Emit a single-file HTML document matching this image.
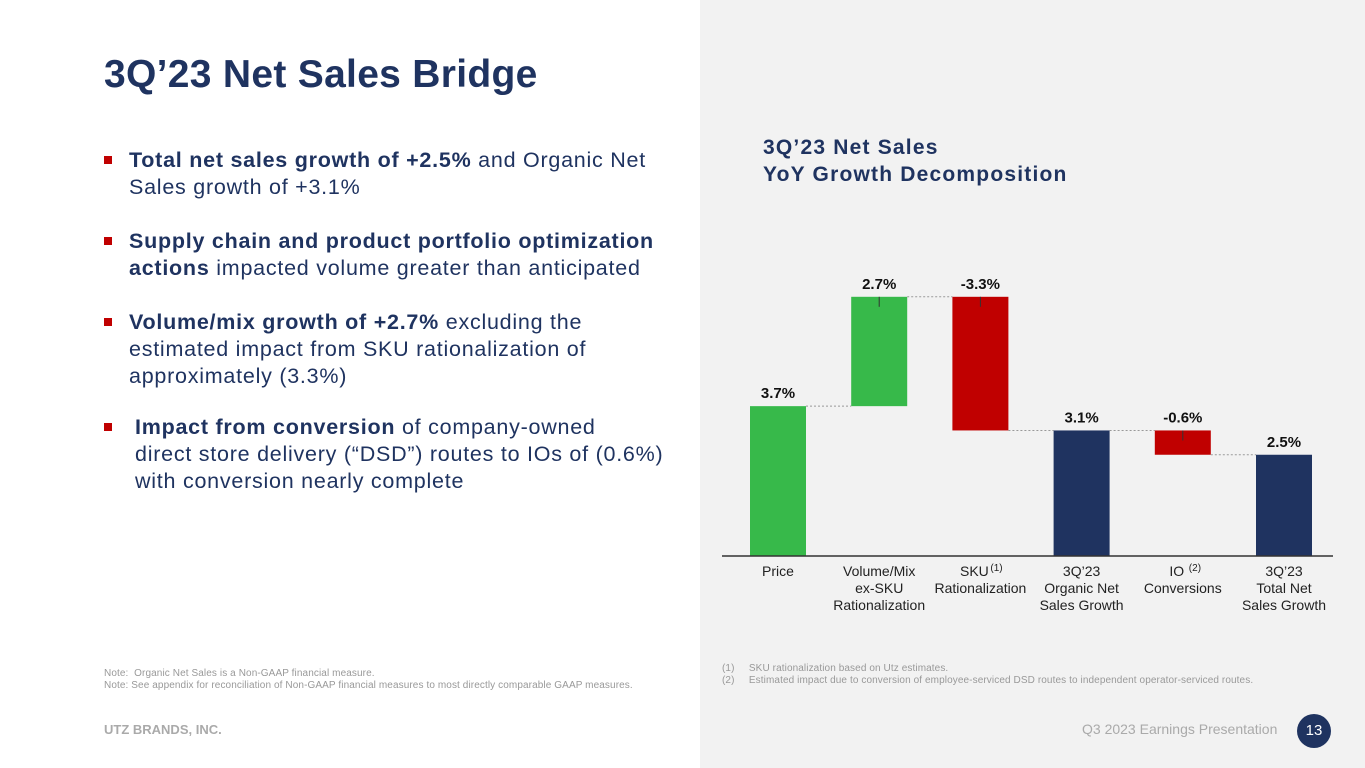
<!DOCTYPE html>
<html><head><meta charset="utf-8"><style>
body{margin:0;width:1365px;height:768px;position:relative;overflow:hidden;font-family:"Liberation Sans",sans-serif;background:#fff}
.right{position:absolute;left:700px;top:0;width:665px;height:768px;background:#f2f2f2}
h1{position:absolute;left:104px;top:53px;margin:0;font-size:39px;color:#1f3360;font-weight:bold;letter-spacing:0.3px}
.b{position:absolute;left:104px;font-size:21.5px;line-height:27px;color:#1f3360;width:600px;letter-spacing:0.75px;white-space:nowrap}
.b .sq{position:absolute;left:0;top:9px;width:8px;height:8px;background:#c00000}
.b .t{margin-left:25px}
.b strong{font-weight:bold}
.ct{position:absolute;left:763px;top:134px;font-size:21px;font-weight:bold;color:#1f3360;line-height:27px;letter-spacing:1.2px}
.small{position:absolute;font-size:10px;color:#999;line-height:12px;white-space:nowrap}
.foot{position:absolute;left:104px;top:722px;font-size:13px;font-weight:bold;color:#aaa}
.pres{position:absolute;left:1082px;top:721px;font-size:14px;color:#aaa}
.pg{position:absolute;left:1297px;top:714px;width:34px;height:34px;border-radius:17px;background:#1f3360;color:#fff;font-size:15px;text-align:center;line-height:34px}
</style></head><body>
<div class="right"></div>
<h1>3Q’23 Net Sales Bridge</h1>
<div class="b" style="top:147px"><span class="sq"></span><div class="t"><strong>Total net sales growth of +2.5%</strong> and Organic Net<br>Sales growth of +3.1%</div></div>
<div class="b" style="top:228px"><span class="sq"></span><div class="t"><strong>Supply chain and product portfolio optimization<br>actions</strong> impacted volume greater than anticipated</div></div>
<div class="b" style="top:309px"><span class="sq"></span><div class="t"><strong>Volume/mix growth of +2.7%</strong> excluding the<br>estimated impact from SKU rationalization of<br>approximately (3.3%)</div></div>
<div class="b" style="top:414px"><span class="sq"></span><div class="t" style="margin-left:31px"><strong>Impact from conversion</strong> of company-owned<br>direct store delivery (“DSD”) routes to IOs of (0.6%)<br>with conversion nearly complete</div></div>
<div class="ct">3Q’23 Net Sales<br>YoY Growth Decomposition</div>
<svg id="chart" width="1365" height="768" style="position:absolute;left:0;top:0"></svg>
<div class="small" style="left:104px;top:668px;letter-spacing:0.1px">Note:&nbsp; Organic Net Sales is a Non-GAAP financial measure.<br>Note: See appendix for reconciliation of Non-GAAP financial measures to most directly comparable GAAP measures.</div>
<div class="small" style="left:722px;top:663px;letter-spacing:0.1px">(1)&nbsp;&nbsp;&nbsp;&nbsp;&nbsp;SKU rationalization based on Utz estimates.<br>(2)&nbsp;&nbsp;&nbsp;&nbsp;&nbsp;Estimated impact due to conversion of employee-serviced DSD routes to independent operator-serviced routes.</div>
<div class="foot">UTZ BRANDS, INC.</div>
<div class="pres">Q3 2023 Earnings Presentation</div>
<div class="pg">13</div>
<script>
const categories=[["Price"],["Volume/Mix","ex-SKU","Rationalization"],["SKU","Rationalization"],["3Q’23","Organic Net","Sales Growth"],["IO","Conversions"],["3Q’23","Total Net","Sales Growth"]];
const values=[3.7,2.7,-3.3,3.1,-0.6,2.5];
const kinds=["up","up","down","total","down","total"];
const labels=["3.7%","2.7%","-3.3%","3.1%","-0.6%","2.5%"];
const sups=["","","(1)","","(2)",""];
const svg=document.getElementById('chart');const NS="http://www.w3.org/2000/svg";
const base=556,ppu=40.5,x0=778,step=101.2,bw=56;
const y=v=>base-v*ppu, xc=i=>x0+i*step;
const col={up:"#37b94a",down:"#c00000",total:"#1f3360"};
function mk(t,a){const e=document.createElementNS(NS,t);for(const k in a)e.setAttribute(k,a[k]);svg.appendChild(e);return e;}
let cum=0;
values.forEach((v,i)=>{
 let lo,hi,end;
 if(kinds[i]==="total"){lo=0;hi=v;end=v;}else{const s=cum;end=cum+v;lo=Math.min(s,end);hi=Math.max(s,end);}
 if(i>0){const l=mk('line',{x1:xc(i-1)+bw/2,x2:xc(i)-bw/2,y1:y(cum),y2:y(cum),stroke:"#999","stroke-dasharray":"2,2","stroke-width":1});}
 const r=mk('rect',{x:xc(i)-bw/2,y:y(hi),width:bw,height:y(lo)-y(hi),fill:col[kinds[i]]});
 
 const top=y(hi);
 if(kinds[i]!=="total"&&i>0){mk('line',{x1:xc(i),x2:xc(i),y1:top,y2:top+10,stroke:"#333","stroke-width":1});}
 const t=mk('text',{x:xc(i),y:top-8,"text-anchor":"middle","font-size":15,"font-weight":"bold",fill:"#111","font-family":"Liberation Sans,sans-serif"});t.textContent=labels[i];
 
 categories[i].forEach((ln,j)=>{const c=mk('text',{x:xc(i)+(sups[i]&&j===0?-6:0),y:576+j*17,"text-anchor":"middle","font-size":14,fill:"#222","font-family":"Liberation Sans,sans-serif"});c.textContent=ln;
  
  if(sups[i]&&j===0){const s=mk('text',{x:xc(i)+(ln.length*4)-2,y:571,"font-size":10,fill:"#222","font-family":"Liberation Sans,sans-serif"});s.textContent=sups[i];}
 });
 cum=end;
});
const ax=mk('line',{x1:722,x2:1333,y1:base,y2:base,stroke:"#333","stroke-width":1.5});

</script>
</body></html>
